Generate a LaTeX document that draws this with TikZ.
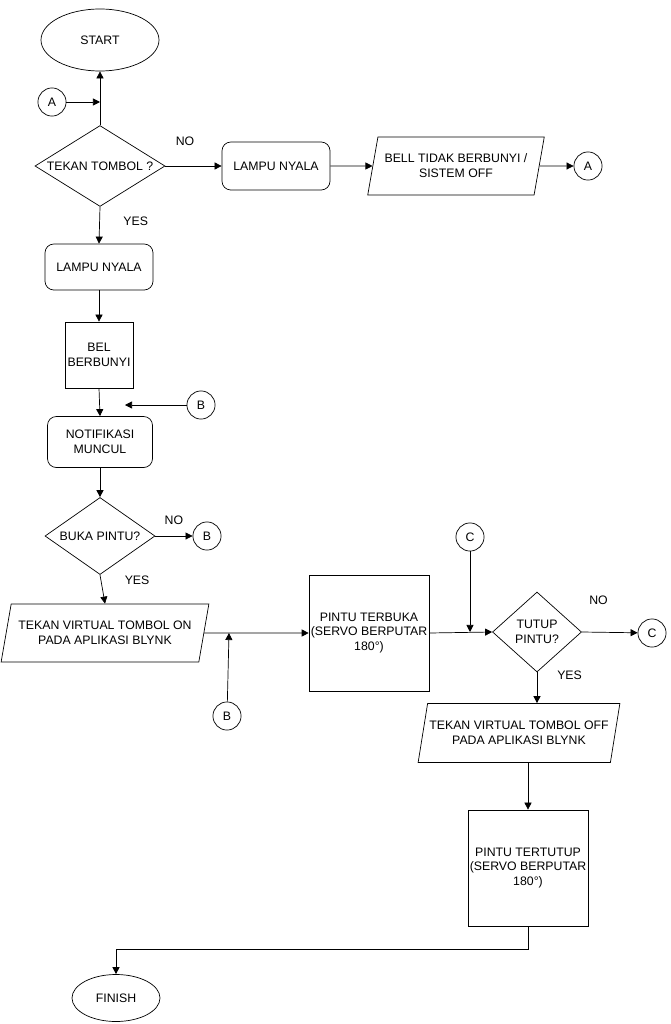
\documentclass[tikz,border=0pt]{standalone}
\usepackage{fontspec}
\setmainfont{Liberation Sans}
\usetikzlibrary{shapes.geometric,arrows.meta}
\tikzset{
  box/.style={draw,rounded corners=5pt,align=center},
  proc/.style={draw,align=center,inner xsep=1pt},
  dec/.style={draw,diamond,aspect=1.6,inner sep=1pt,align=center},
  io/.style={draw,trapezium,trapezium left angle=75,trapezium right angle=105,trapezium stretches=true,inner xsep=1pt,align=center},
  con/.style={draw,circle,minimum size=16pt,inner sep=0pt},
  term/.style={draw,ellipse},
  lbl/.style={font=\fontsize{7}{8}\selectfont},
  every node/.append style={font=\fontsize{7}{8.5}\selectfont},
  >={Triangle[length=4pt,width=4pt]}
}
\begin{document}
\begin{tikzpicture}[x=0.02cm,y=-0.02cm]
  \useasboundingbox (0,0) rectangle (671,1024);
  % top part
  \node[term,minimum width=118*0.02cm,minimum height=62*0.02cm] (start) at (100,40) {START};
  \node[con] (a1) at (52,102) {A};
  \node[dec,minimum width=130*0.02cm,minimum height=78*0.02cm] (tombol) at (100,166) {TEKAN TOMBOL ?};
  \node[box,minimum width=108*0.02cm,minimum height=48*0.02cm] (lampu1) at (276,166) {LAMPU NYALA};
  \node[io,minimum width=177*0.02cm,minimum height=58*0.02cm] (bell) at (456,166) {BELL TIDAK BERBUNYI /\\SISTEM OFF};
  \node[con] (a2) at (588,166) {A};
  \node[box,minimum width=108*0.02cm,minimum height=46*0.02cm] (lampu2) at (99,267) {LAMPU NYALA};
  \node[proc,minimum width=68*0.02cm,minimum height=66*0.02cm] (bel) at (99,355) {BEL\\BERBUNYI};
  \node[con] (b1) at (201,405) {B};
  \node[box,minimum width=105*0.02cm,minimum height=51*0.02cm] (notif) at (100,442) {NOTIFIKASI\\MUNCUL};
  \node[dec,minimum width=110*0.02cm,minimum height=77*0.02cm] (buka) at (100,536) {BUKA PINTU?};
  \node[con] (b2) at (207,536) {B};
  % lower part
  \node[io,minimum width=208*0.02cm,minimum height=58*0.02cm] (on) at (105,633) {TEKAN VIRTUAL TOMBOL ON\\PADA APLIKASI BLYNK};
  \node[con] (b3) at (227,716) {B};
  \node[proc,minimum width=118*0.02cm,minimum height=116*0.02cm] (terbuka) at (369,633) {PINTU TERBUKA\\(SERVO BERPUTAR\\180°)};
  \node[con] (c1) at (470,537) {C};
  \node[dec,minimum width=89*0.02cm,minimum height=80*0.02cm,aspect=1.1] (tutup) at (537,632) {TUTUP\\PINTU?};
  \node[con] (c2) at (652,633) {C};
  \node[io,minimum width=187*0.02cm,minimum height=59*0.02cm] (off) at (519,733) {TEKAN VIRTUAL TOMBOL OFF\\PADA APLIKASI BLYNK};
  \node[proc,minimum width=115*0.02cm,minimum height=116*0.02cm] (tertutup) at (528,868) {PINTU TERTUTUP\\(SERVO BERPUTAR\\180°)};
  \node[term,minimum width=88*0.02cm,minimum height=47*0.02cm] (finish) at (116,998) {FINISH};
  \coordinate (ja) at (100,102);
  \coordinate (jb) at (125,405);
  \coordinate (jc) at (229,633);
  \coordinate (jd) at (470,632);
  % connectors
  \draw[->] (tombol.north) -- (start.south);
  \draw[->] (a1) -- (ja);
  \draw[->] (tombol.east) -- node[lbl,above=8pt,pos=0.35] {NO} (lampu1.west);
  \draw[->] (lampu1.east) -- (bell.west);
  \draw[->] (bell.east) -- (a2);
  \draw[->] (tombol.south) -- node[lbl,right=10pt,pos=0.4] {YES} (lampu2.north);
  \draw[->] (lampu2.south) -- (bel.north);
  \draw[->] (bel.south) -- (notif.north);
  \draw[->] (b1) -- (jb);
  \draw[->] (notif.south) -- (buka.north);
  \draw[->] (buka.east) -- node[lbl,above=3pt] {NO} (b2);
  \draw[->] (buka.south) -- node[lbl,right=10pt,pos=0.2] {YES} (on.north);
  \draw[->] (on.east) -- (terbuka.west);
  \draw[->] (b3) -- (jc);
  \draw[->] (terbuka.east) -- (tutup.west);
  \draw[->] (c1) -- (jd);
  \draw[->] (tutup.east) -- node[lbl,above=12pt,pos=0.3] {NO} (c2);
  \draw[->] (tutup.south) -- node[lbl,right=8pt,pos=0.1] {YES} (tutup.south |- off.north);
  \draw[->] (off.south -| tertutup.north) -- (tertutup.north);
  \draw[->] (tertutup.south) -- ++(0,23) -| (finish.north);
\end{tikzpicture}
\end{document}
